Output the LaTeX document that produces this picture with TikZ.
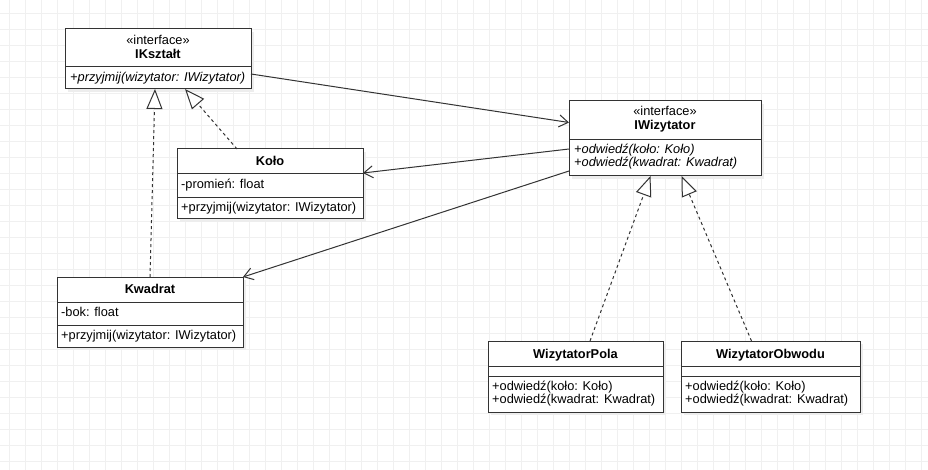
\documentclass[tikz,border=0pt]{standalone}
\usepackage{fontspec}
\setmainfont{Liberation Sans}
\usetikzlibrary{arrows.meta}
\begin{document}
\begin{tikzpicture}[x=1pt,y=-1pt,
  gridline/.style={draw=black!6, line width=0.8pt},
  sep/.style={draw=black!80, line width=1pt},
  umlbox/.style={rectangle, draw=black!80, line width=1pt, fill=white, inner sep=0pt, outer sep=0pt, anchor=north west},
  shadowbox/.style={rectangle, fill=black!7, inner sep=0pt, outer sep=0pt, anchor=north west},
  txt/.style={font=\fontsize{12.8}{15}\selectfont, inner sep=0pt, anchor=base},
  txtl/.style={txt, anchor=base west},
  assoc/.style={draw=black!80, line width=1pt, -{Straight Barb[length=9pt,width=12pt]}},
  realize/.style={draw=black!80, line width=1pt, dash pattern=on 3pt off 3pt, -{Triangle[open,length=20pt,width=16pt,fill=white]}}
]
\path[use as bounding box] (0,0) rectangle (928,470);
\fill[white] (0,0) rectangle (928,470);
\foreach \i in {0,...,57} \draw[gridline] (9.33+16*\i,0) -- (9.33+16*\i,470);
\foreach \j in {0,...,28} \draw[gridline] (0,13.33+16*\j) -- (928,13.33+16*\j);

% IKsztalt
\node[shadowbox, minimum width=186pt, minimum height=60pt] (ik-sh) at (68,32) {};
\node[umlbox, minimum width=186pt, minimum height=60pt] (ik) at (65,29) {};
\draw[sep] (ik.west |- 0,67) -- (ik.east |- 0,67);
\node[txt] (ik-st) at (158,44.5) {«interface»};
\node[txt] (ik-t) at (158,59) {\bfseries IKształt};
\node[txtl] (ik-m) at (70,82) {\itshape +przyjmij(wizytator: IWizytator)};

% Kolo
\node[shadowbox, minimum width=186pt, minimum height=70pt] (kolo-sh) at (180,152) {};
\node[umlbox, minimum width=186pt, minimum height=70pt] (kolo) at (177,149) {};
\draw[sep] (kolo.west |- 0,174) -- (kolo.east |- 0,174);
\draw[sep] (kolo.west |- 0,198) -- (kolo.east |- 0,198);
\node[txt] (kolo-t) at (270,166) {\bfseries Koło};
\node[txtl] (kolo-a) at (181,188.5) {-promień: float};
\node[txtl] (kolo-m) at (181,211.5) {+przyjmij(wizytator: IWizytator)};

% IWizytator
\node[shadowbox, minimum width=192pt, minimum height=75pt] (iw-sh) at (572,104) {};
\node[umlbox, minimum width=192pt, minimum height=75pt] (iw) at (569,101) {};
\draw[sep] (iw.west |- 0,140) -- (iw.east |- 0,140);
\node[txt] (iw-st) at (665,115.7) {«interface»};
\node[txt] (iw-t) at (665,130) {\bfseries IWizytator};
\node[txtl] (iw-m1) at (574,153.5) {\itshape +odwiedź(koło: Koło)};
\node[txtl] (iw-m2) at (574,167) {\itshape +odwiedź(kwadrat: Kwadrat)};

% Kwadrat
\node[shadowbox, minimum width=186pt, minimum height=70pt] (kw-sh) at (60,280) {};
\node[umlbox, minimum width=186pt, minimum height=70pt] (kw) at (57,277) {};
\draw[sep] (kw.west |- 0,302) -- (kw.east |- 0,302);
\draw[sep] (kw.west |- 0,325) -- (kw.east |- 0,325);
\node[txt] (kw-t) at (150,293.7) {\bfseries Kwadrat};
\node[txtl] (kw-a) at (61,316) {-bok: float};
\node[txtl] (kw-m) at (61,339) {+przyjmij(wizytator: IWizytator)};

% WizytatorPola
\node[shadowbox, minimum width=175pt, minimum height=71pt] (wp-sh) at (491,344) {};
\node[umlbox, minimum width=175pt, minimum height=71pt] (wp) at (488,341) {};
\draw[sep] (wp.west |- 0,366) -- (wp.east |- 0,366);
\draw[sep] (wp.west |- 0,376) -- (wp.east |- 0,376);
\node[txt] (wp-t) at (575.5,358.3) {\bfseries WizytatorPola};
\node[txtl] (wp-m1) at (492,390.7) {+odwiedź(koło: Koło)};
\node[txtl] (wp-m2) at (492,403.3) {+odwiedź(kwadrat: Kwadrat)};

% WizytatorObwodu
\node[shadowbox, minimum width=179pt, minimum height=71pt] (wo-sh) at (684,344) {};
\node[umlbox, minimum width=179pt, minimum height=71pt] (wo) at (681,341) {};
\draw[sep] (wo.west |- 0,366) -- (wo.east |- 0,366);
\draw[sep] (wo.west |- 0,376) -- (wo.east |- 0,376);
\node[txt] (wo-t) at (770.5,358.3) {\bfseries WizytatorObwodu};
\node[txtl] (wo-m1) at (685,390.7) {+odwiedź(koło: Koło)};
\node[txtl] (wo-m2) at (685,403.3) {+odwiedź(kwadrat: Kwadrat)};

% connectors
\draw[assoc] ([yshift=-15pt]ik.east) -- ([yshift=16pt]iw.west);
\draw[assoc] ([yshift=-10.5pt]iw.west) -- ([yshift=11pt]kolo.east);
\draw[assoc] ([yshift=-32.5pt]iw.west) -- (kw.north east);
\draw[realize] (kw.north) -- ([xshift=-3pt]ik.south);
\draw[realize] ([xshift=-33pt]kolo.north) -- ([xshift=27pt]ik.south);
\draw[realize] ([xshift=14.5pt]wp.north) -- ([xshift=-14.5pt]iw.south);
\draw[realize] ([xshift=-19pt]wo.north) -- ([xshift=16.5pt]iw.south);
\end{tikzpicture}
\end{document}
